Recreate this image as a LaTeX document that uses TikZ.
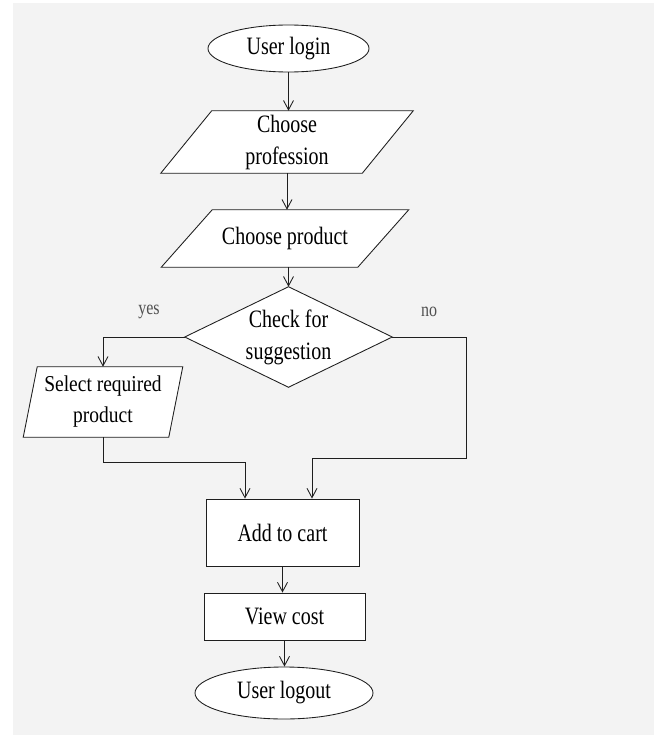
\documentclass[tikz,border=0pt]{standalone}
\usepackage{fontspec}
\setmainfont[FakeStretch=0.8]{Liberation Serif}
\newfontfamily\selfont[FakeStretch=0.86]{Liberation Serif}
\usetikzlibrary{shapes.geometric,arrows.meta,calc}
\pgfdeclarelayer{bg}
\pgfdeclarelayer{back}
\pgfsetlayers{bg,back,main}
\definecolor{pagegray}{HTML}{F3F3F3}
\definecolor{linec}{HTML}{1E1E1E}
\definecolor{labelc}{HTML}{505050}
\tikzset{
  base/.style={align=center, inner sep=0pt, text=black, font=\fontsize{18.75}{24}\selectfont},
  term/.style={base, ellipse, draw=linec, line width=0.65pt, fill=white},
  box/.style={base, rectangle, draw=linec, line width=0.65pt, fill=white},
  paratext/.style={base, rectangle},
  shapeline/.style={draw=linec, line width=0.65pt, fill=white},
  arr/.style={draw=linec, line width=0.65pt, -{Straight Barb[length=7pt,width=7.5pt]}},
  lbl/.style={text=labelc, inner sep=0pt, font=\fontsize{15}{18}\selectfont}
}
\begin{document}
\begin{tikzpicture}[x=0.75pt,y=-0.75pt]
\useasboundingbox (0,0) rectangle (654,735);
\begin{pgfonlayer}{bg}
\fill[white] (0,0) rectangle (654,735);
\fill[pagegray] (13,3) rectangle (654,735);
\end{pgfonlayer}

% nodes
\node[term, minimum width=120.75pt, minimum height=35.25pt] (login) at (288.5,48.5) {User login};
\node[paratext, minimum width=150.75pt, minimum height=46.5pt] (prof) at (287,142) {Choose\\profession};
\node[paratext, minimum width=147pt, minimum height=42.75pt] (prod) at (285,238.5) {Choose product};
\node[paratext, minimum width=155.25pt, minimum height=75pt] (check) at (288.5,337) {Check for\\suggestion};
\node[paratext, minimum width=108.75pt, minimum height=52.5pt, font=\selfont\fontsize{17}{23.25}\selectfont] (sel) at (103,402) {Select required\\product};
\node[box, minimum width=114.75pt, minimum height=50.25pt] (cart) at (282.5,532.5) {Add to cart};
\node[box, minimum width=120.75pt, minimum height=35.25pt] (cost) at (284.5,616.5) {View cost};
\node[term, minimum width=133.5pt, minimum height=39pt] (logout) at (284,693) {User logout};

\node[lbl] (yes) at (149,312) {yes};
\node[lbl] (no) at (429,312) {no};

% outlines of parallelograms and the decision diamond
\begin{pgfonlayer}{back}
\path[shapeline] ($(prof.north west)+(25.5,0)$) -- ($(prof.north east)+(25.5,0)$) -- ($(prof.south east)+(-25.5,0)$) -- ($(prof.south west)+(-25.5,0)$) -- cycle;
\path[shapeline] ($(prod.north west)+(25.5,0)$) -- ($(prod.north east)+(25.5,0)$) -- ($(prod.south east)+(-25.5,0)$) -- ($(prod.south west)+(-25.5,0)$) -- cycle;
\path[shapeline] ($(sel.north west)+(7,0)$) -- ($(sel.north east)+(7,0)$) -- ($(sel.south east)+(-7,0)$) -- ($(sel.south west)+(-7,0)$) -- cycle;
\path[shapeline] (check.north) -- (check.east) -- (check.south) -- (check.west) -- cycle;
\end{pgfonlayer}

% junction coordinates
\coordinate (j1) at (245,462);
\coordinate (j2) at (466,458);
\coordinate (j3) at (312,458);

% connectors
\draw[arr] (login.south) -- (login.south |- prof.north);
\draw[arr] (prof.south) -- (prof.south |- prod.north);
\draw[arr] (check.north |- prod.south) -- (check.north);
\draw[arr] (check.west) -| (sel.north);
\draw[arr] (sel.south) |- (j1) -- (j1 |- cart.north);
\draw[arr] (check.east) -| (j2) -- (j3) -- (j3 |- cart.north);
\draw[arr] (cart.south) -- (cart.south |- cost.north);
\draw[arr] (cost.south) -- (cost.south |- logout.north);
\end{tikzpicture}
\end{document}
